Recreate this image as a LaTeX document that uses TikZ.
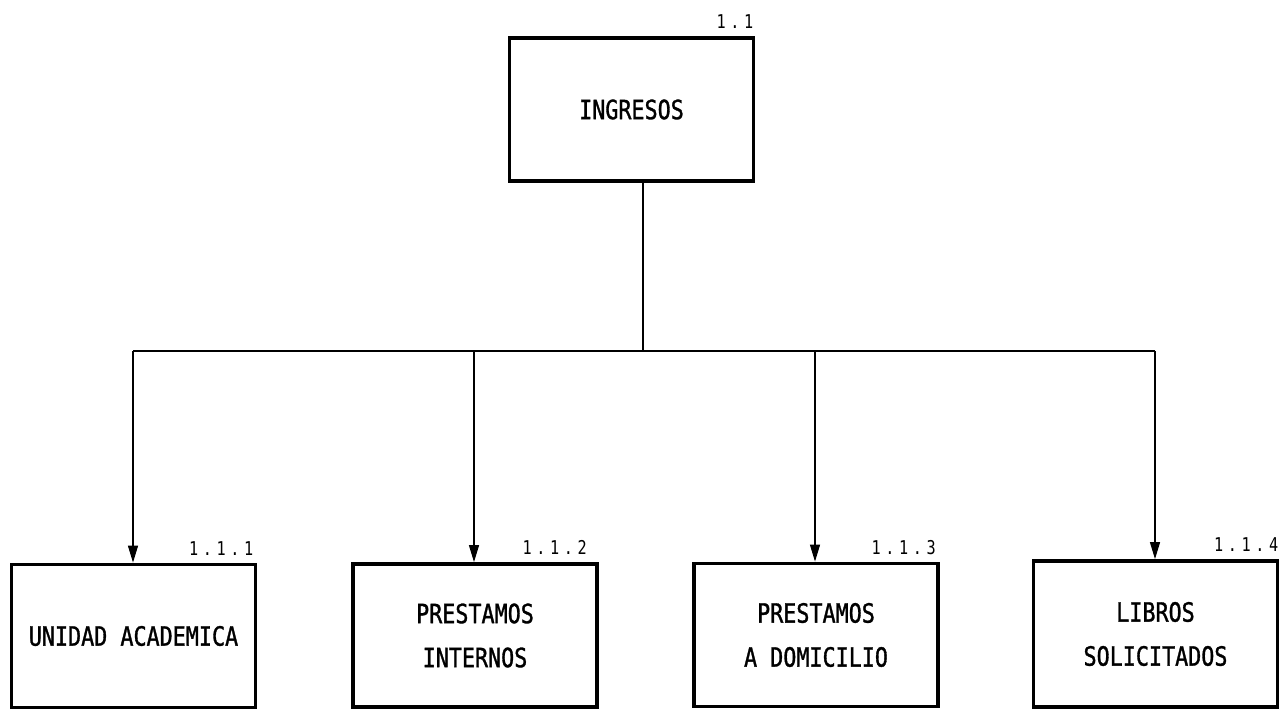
\documentclass[tikz,border=0pt]{standalone}
\usepackage{fontspec}
\usetikzlibrary{arrows.meta}
\newfontfamily\plotfont[FakeStretch=0.82,FakeBold=1.2]{DejaVu Sans Mono}
\newfontfamily\numfont[FakeStretch=0.8,LetterSpace=24]{DejaVu Sans Mono}
\tikzset{
  procbox/.style={draw, line width=3.8pt, minimum width=244pt, minimum height=143pt,
    inner sep=0pt, align=center, font={\plotfont\fontsize{26.5}{44}\selectfont}},
  numlabel/.style={anchor=south east, inner sep=0pt, font={\numfont\fontsize{19}{19}\selectfont}},
  link/.style={line width=1.3pt},
  arrowlink/.style={link, -{Triangle[length=17pt,width=10pt]}}
}
\begin{document}
\begin{tikzpicture}[x=1pt,y=-1pt]
\useasboundingbox (0,0) rectangle (1288,711);
\node[procbox] (top) at (631.5,109.5) {INGRESOS};
\node[procbox] (b1) at (133.5,636) {UNIDAD ACADEMICA};
\node[procbox] (b2) at (475,635.5) {PRESTAMOS\\INTERNOS};
\node[procbox] (b3) at (816,635) {PRESTAMOS\\A DOMICILIO};
\node[procbox, minimum height=146pt] (b4) at (1155.5,634) {LIBROS\\SOLICITADOS};
\node[numlabel] (ltop) at ([xshift=-2pt,yshift=7pt]top.north east) {1.1};
\node[numlabel] (l1) at ([xshift=-4pt,yshift=7pt]b1.north east) {1.1.1};
\node[numlabel] (l2) at ([xshift=-12pt,yshift=7pt]b2.north east) {1.1.2};
\node[numlabel] (l3) at ([xshift=-4pt,yshift=7pt]b3.north east) {1.1.3};
\node[numlabel] (l4) at ([xshift=-1pt,yshift=7pt]b4.north east) {1.1.4};
\coordinate (hub) at (643,351);
\coordinate (h1) at (133,351);
\coordinate (h4) at (1155,351);
\draw[link] ([xshift=11.5pt]top.south) -- (hub);
\draw[link] (h1) -- (h4);
\draw[arrowlink] (h1) -- (h1 |- b1.north);
\draw[arrowlink] (474,351) -- (474,0 |- b2.north);
\draw[arrowlink] (815,351) -- (815,0 |- b3.north);
\draw[arrowlink] (h4) -- (h4 |- b4.north);
\end{tikzpicture}
\end{document}
